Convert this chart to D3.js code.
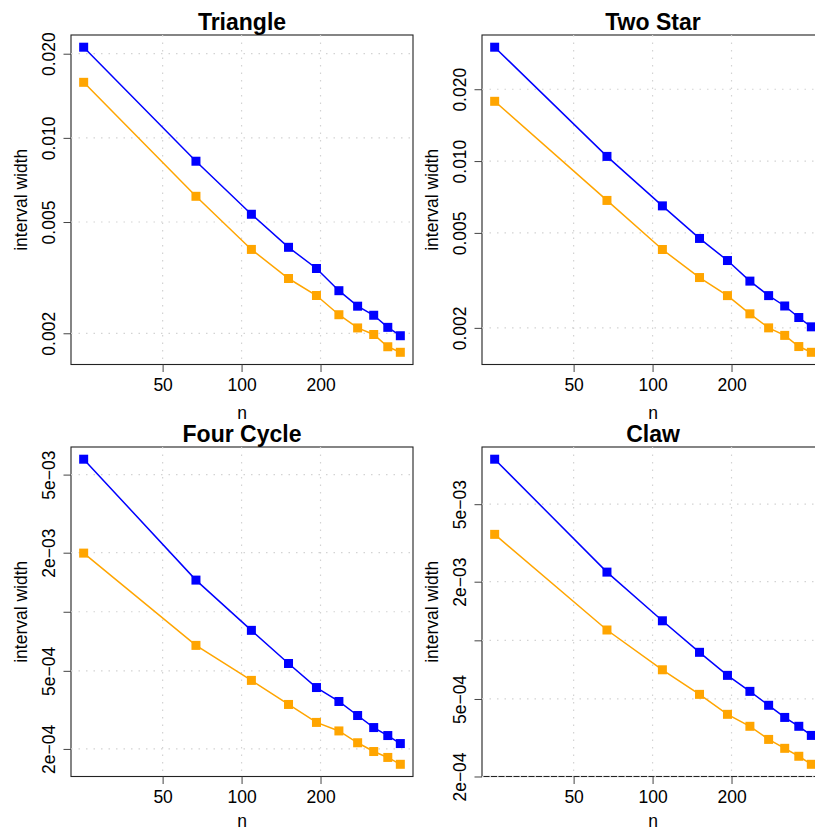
<!DOCTYPE html>
<meta charset="utf-8">
<style>
  body { margin: 0; background: #fff; }
  text { font-family: "Liberation Sans", Arial, Helvetica, sans-serif; fill: #000; }
  .grid line { stroke: #d3d3d3; stroke-width: 1.2px; stroke-dasharray: 1.5, 6; }
</style>
<body>
<script src="https://d3js.org/d3.v7.min.js"></script>
<script>

    // sample sizes along the x axis
    var sizes = [25, 67, 109, 151, 193, 235, 277, 319, 361, 403];
    var xTicks = [50, 100, 200];

    var titles = ["Triangle", "Two Star", "Four Cycle", "Claw"];

    // interval widths, blue and orange series per panel
    var triangleBlue   = [0.0211, 0.00825, 0.00533, 0.00406, 0.00341, 0.00284, 0.00250, 0.00232, 0.00210, 0.00196];
    var triangleOrange = [0.0158, 0.00618, 0.00399, 0.00314, 0.00273, 0.00233, 0.00209, 0.00198, 0.00179, 0.00171];

    var twoStarBlue    = [0.0300, 0.01046, 0.00649, 0.00474, 0.00383, 0.00314, 0.00273, 0.00247, 0.00221, 0.00202];
    var twoStarOrange  = [0.0178, 0.00684, 0.00426, 0.00325, 0.00273, 0.00229, 0.00200, 0.00186, 0.00167, 0.00158];

    var fourCycleBlue   = [5.99e-3, 1.45e-3, 8.04e-4, 5.45e-4, 4.11e-4, 3.49e-4, 2.96e-4, 2.57e-4, 2.34e-4, 2.13e-4];
    var fourCycleOrange = [1.99e-3, 6.74e-4, 4.47e-4, 3.37e-4, 2.73e-4, 2.47e-4, 2.15e-4, 1.94e-4, 1.81e-4, 1.67e-4];

    var clawBlue   = [8.51e-3, 2.24e-3, 1.26e-3, 8.68e-4, 6.61e-4, 5.47e-4, 4.64e-4, 4.02e-4, 3.62e-4, 3.25e-4];
    var clawOrange = [3.50e-3, 1.13e-3, 7.06e-4, 5.28e-4, 4.17e-4, 3.62e-4, 3.10e-4, 2.79e-4, 2.54e-4, 2.31e-4];

    // y ticks and their labels (R drops the 1e-03 label)
    var yTicksSmall  = [0.002, 0.005, 0.010, 0.020];
    var yLabelsSmall = ["0.002", "0.005", "0.010", "0.020"];
    var yTicksTiny   = [2e-4, 5e-4, 1e-3, 2e-3, 5e-3];
    var yLabelsTiny  = ["2e\u221204", "5e\u221204", "", "2e\u221203", "5e\u221203"];

    var panels = [
        {title: titles[0], blue: triangleBlue,  orange: triangleOrange,  ticks: yTicksSmall, labels: yLabelsSmall, left: 71,  top: 35,  nGap: 54},
        {title: titles[1], blue: twoStarBlue,   orange: twoStarOrange,   ticks: yTicksSmall, labels: yLabelsSmall, left: 482, top: 35,  nGap: 54},
        {title: titles[2], blue: fourCycleBlue, orange: fourCycleOrange, ticks: yTicksTiny,  labels: yLabelsTiny,  left: 71,  top: 447, nGap: 50},
        {title: titles[3], blue: clawBlue,      orange: clawOrange,      ticks: yTicksTiny,  labels: yLabelsTiny,  left: 482, top: 447, nGap: 50}
    ];

    var width = 342, height = 329.5;

    var svg = d3.select("body").append("svg")
        .attr("width", 815)
        .attr("height", 831);

    // R style log range: data extent padded by 4% on each side
    function logDomain(values) {
        var lo = Math.log(d3.min(values)), hi = Math.log(d3.max(values));
        var pad = (hi - lo) * 0.04;
        return [Math.exp(lo - pad), Math.exp(hi + pad)];
    }

    panels.forEach(function (p) {
        var x = d3.scaleLog().domain(logDomain(sizes)).range([0, width]);
        var y = d3.scaleLog().domain(logDomain(p.blue.concat(p.orange))).range([height, 0]);

        var g = svg.append("g")
            .attr("transform", "translate(" + p.left + "," + p.top + ")");

        // box
        g.append("rect")
            .attr("width", width).attr("height", height)
            .attr("fill", "none").attr("stroke", "#222").attr("stroke-width", 1.1);

        // x axis
        var xa = g.append("g")
            .attr("transform", "translate(0," + height + ")")
            .call(d3.axisBottom(x).tickValues(xTicks).tickFormat(d3.format("d")).tickSize(7.5).tickPadding(4));
        xa.select(".domain").remove();
        xa.selectAll(".tick line").attr("stroke", "#444");
        xa.selectAll("text")
            .attr("dy", null).attr("y", 26.5)
            .style("font-size", "17.5px");

        // y axis, labels parallel to the axis
        var ya = g.append("g")
            .call(d3.axisLeft(y).tickValues(p.ticks).tickSize(7.5)
                .tickFormat(function (d, i) { return p.labels[i]; }));
        ya.select(".domain").remove();
        ya.selectAll(".tick line").attr("stroke", "#444");
        ya.selectAll("text")
            .attr("x", null).attr("dy", null)
            .attr("text-anchor", "middle")
            .attr("transform", "translate(-16,0) rotate(-90)")
            .style("font-size", "17.5px");

        // dotted grid
        var grid = g.append("g").attr("class", "grid");
        grid.selectAll(".gx").data(xTicks).enter().append("line")
            .attr("x1", function (d) { return x(d); }).attr("x2", function (d) { return x(d); })
            .attr("y1", 0).attr("y2", height);
        grid.selectAll(".gy").data(p.ticks).enter().append("line")
            .attr("y1", function (d) { return y(d); }).attr("y2", function (d) { return y(d); })
            .attr("x1", 0).attr("x2", width);

        // series
        var line = d3.line()
            .x(function (d, i) { return x(sizes[i]); })
            .y(function (d) { return y(d); });

        [{vals: p.blue, color: "#0000ff"}, {vals: p.orange, color: "#ffa500"}].forEach(function (s) {
            g.append("path")
                .attr("d", line(s.vals))
                .attr("fill", "none")
                .attr("stroke", s.color)
                .attr("stroke-width", 1.5);
            g.selectAll(null).data(s.vals).enter().append("rect")
                .attr("x", function (d, i) { return x(sizes[i]) - 4.5; })
                .attr("y", function (d) { return y(d) - 4.5; })
                .attr("width", 9).attr("height", 9)
                .attr("fill", s.color);
        });

        // titles and axis labels
        g.append("text")
            .attr("x", width / 2).attr("y", -5)
            .attr("text-anchor", "middle")
            .style("font-size", "23px").style("font-weight", "bold")
            .text(p.title);

        g.append("text")
            .attr("x", width / 2).attr("y", height + p.nGap)
            .attr("text-anchor", "middle")
            .style("font-size", "17.5px")
            .text("n");

        g.append("text")
            .attr("transform", "translate(-44.5," + (height / 2) + ") rotate(-90)")
            .attr("text-anchor", "middle")
            .style("font-size", "17.5px")
            .text("interval width");
    });

</script>
</body>
